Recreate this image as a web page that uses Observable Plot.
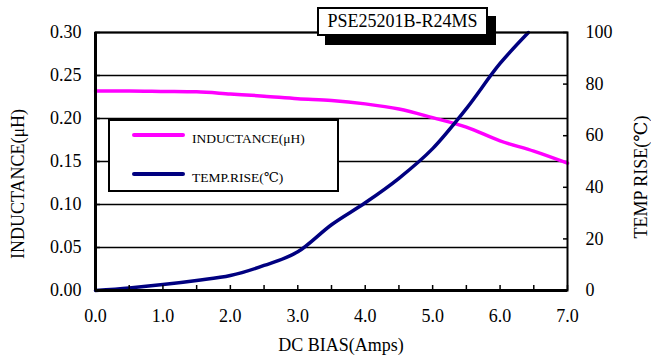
<!DOCTYPE html>
<html>
<head>
<meta charset="utf-8">
<script src="https://cdn.jsdelivr.net/npm/d3@7"></script>
<script src="https://cdn.jsdelivr.net/npm/@observablehq/plot@0.6"></script>
<style>
  body { margin: 0; background: #fff; }
  #wrap { position: relative; width: 651px; height: 357px; font-family: "Liberation Serif", Tinos, "DejaVu Serif", "Noto Serif", serif; color: #000; background: #fff; overflow: hidden; }
  #wrap svg { position: absolute; left: 0; top: 0; }
  .ttl { position: absolute; font-size: 18px; white-space: nowrap; line-height: 1; }
  #ylab { left: 18px; top: 184px; transform: translate(-50%, -50%) rotate(-90deg); }
  #y2lab { left: 641px; top: 177px; transform: translate(-50%, -50%) rotate(-90deg); }
  #xlab { left: 341px; top: 345px; transform: translate(-50%, -50%); }
  #titlebox { position: absolute; left: 317px; top: 7px; width: 167px; height: 25px; border: 2px solid #000; background: #fff; box-shadow: 8px 9px 0 #000; font-size: 18px; line-height: 25px; text-align: center; white-space: nowrap; }
  #legend { position: absolute; left: 108px; top: 119px; width: 227px; height: 69px; border: 2px solid #000; background: #fff; }
  .lg { position: absolute; left: 22px; display: flex; align-items: center; }
  .lg .sw { width: 53px; height: 4px; border-radius: 2px; margin-right: 7px; }
  .lg .tx { font-size: 13.5px; white-space: nowrap; position: relative; top: 4px; }
</style>
</head>
<body>
<div id="wrap"></div>
<script>
// ---- data ----
const chartTitle = "PSE25201B-R24MS";
const xTitle = "DC BIAS(Amps)";
const yTitle = "INDUCTANCE(μH)";
const y2Title = "TEMP RISE(℃)";
const seriesNames = ["INDUCTANCE(μH)", "TEMP.RISE(℃)"];
const seriesColors = ["#ff00ff", "#000080"];

const biasL = [0.0, 0.5, 1.0, 1.5, 2.0, 2.5, 3.0, 3.5, 4.0, 4.5, 5.0, 5.5, 6.0, 6.5, 7.0];
const inductance = [0.232, 0.232, 0.2315, 0.231, 0.2285, 0.226, 0.223, 0.221, 0.217, 0.211, 0.201, 0.190, 0.174, 0.162, 0.148];

const biasT = [0.0, 0.5, 1.0, 1.5, 2.0, 2.5, 3.0, 3.5, 4.0, 4.5, 5.0, 5.5, 6.0, 6.42];
const tempRise = [0, 1.0, 2.3, 3.9, 5.8, 9.7, 15.0, 25.5, 34.0, 43.5, 55.0, 70.5, 88.0, 100];

const xTicks = [0.0, 0.5, 1.0, 1.5, 2.0, 2.5, 3.0, 3.5, 4.0, 4.5, 5.0, 5.5, 6.0, 6.5, 7.0];
const yTicks = [0.00, 0.05, 0.10, 0.15, 0.20, 0.25, 0.30];
const y2Ticks = [0, 20, 40, 60, 80, 100];
const yMax = 0.30, y2Max = 100;

// ---- build ----
const FONT = "'Liberation Serif', Tinos, 'DejaVu Serif', 'Noto Serif', serif";
const k = yMax / y2Max; // right axis -> left scale
const indData = biasL.map((x, i) => ({x, y: inductance[i]}));
const tempData = biasT.map((x, i) => ({x, y: tempRise[i]}));

const plot = Plot.plot({
  width: 651, height: 357,
  marginLeft: 95, marginRight: 84, marginTop: 32, marginBottom: 67,
  x: {domain: [0, 7]},
  y: {domain: [0, yMax]},
  style: {fontFamily: FONT, fontSize: "18px", color: "#000", background: "transparent", overflow: "visible"},
  marks: [
    Plot.ruleY(yTicks.slice(1), {stroke: "#000", strokeWidth: 1.5}),
    Plot.line(indData, {x: "x", y: "y", stroke: seriesColors[0], strokeWidth: 3.5, curve: "monotone-x"}),
    Plot.line(tempData, {x: "x", y: d => d.y * k, stroke: seriesColors[1], strokeWidth: 3.5, curve: "monotone-x"}),
    Plot.axisX(xTicks, {tickSize: -5, tickPadding: 24, strokeWidth: 1.5, fontFamily: FONT, tickFormat: d => Number.isInteger(d) ? d.toFixed(1) : "", label: null}),
    Plot.axisY(yTicks, {tickSize: -5, tickPadding: 19, strokeWidth: 1.5, fontFamily: FONT, tickFormat: d => d.toFixed(2), label: null}),
    Plot.axisY(y2Ticks.map(t => t * k), {anchor: "right", tickSize: -5, tickPadding: 23, strokeWidth: 1.5, fontFamily: FONT, tickFormat: d => String(Math.round(d / k)), label: null}),
    Plot.frame({stroke: "#000", strokeWidth: 2}),
    Plot.ruleX([0], {stroke: "#000", strokeWidth: 3}),
    Plot.ruleY([0], {stroke: "#000", strokeWidth: 3})
  ]
});

const wrap = document.getElementById("wrap");
wrap.appendChild(plot);

function addDiv(id, cls, text) {
  const d = document.createElement("div");
  if (id) d.id = id;
  if (cls) d.className = cls;
  if (text != null) d.textContent = text;
  wrap.appendChild(d);
  return d;
}
addDiv("ylab", "ttl", yTitle);
addDiv("y2lab", "ttl", y2Title);
addDiv("xlab", "ttl", xTitle);
addDiv("titlebox", null, chartTitle);

const legend = addDiv("legend", null, null);
seriesNames.forEach((name, i) => {
  const row = document.createElement("div");
  row.className = "lg";
  row.style.top = (i === 0 ? 6 : 44) + "px";
  const sw = document.createElement("div");
  sw.className = "sw";
  sw.style.background = seriesColors[i];
  const tx = document.createElement("span");
  tx.className = "tx";
  tx.textContent = name;
  row.appendChild(sw); row.appendChild(tx);
  legend.appendChild(row);
});
</script>
</body>
</html>
